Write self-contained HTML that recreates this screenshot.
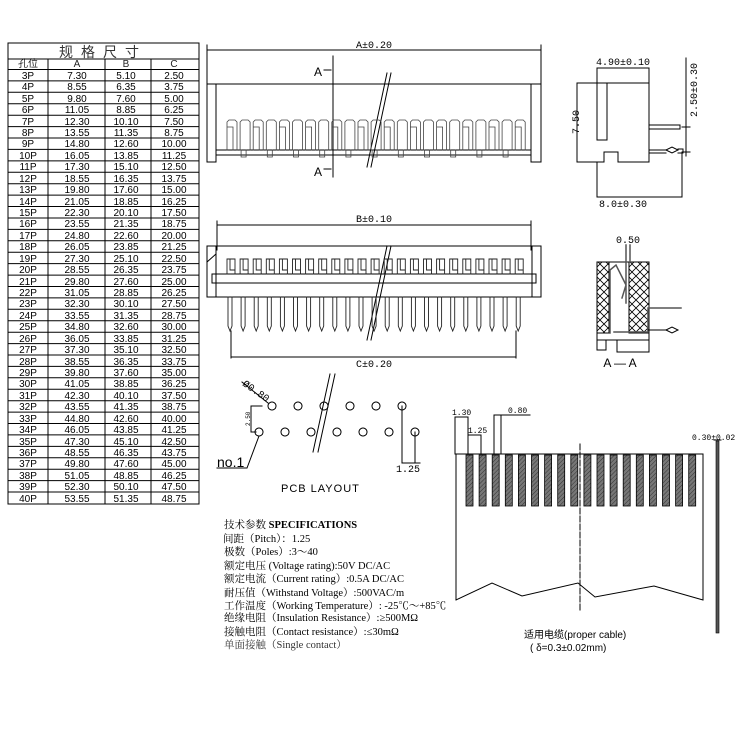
<!DOCTYPE html>
<html><head><meta charset="utf-8"><style>
html,body{margin:0;padding:0;background:#fff}
svg{display:block}
text{font-family:"Liberation Sans","Noto Sans CJK SC",sans-serif;fill:#000}
.s text{font-family:"Liberation Serif","Noto Serif CJK SC",serif;font-size:10.5px}
.t{font-size:10px;text-anchor:middle;fill:#222}
.m{font-family:"Liberation Mono","Noto Sans CJK SC",monospace;font-size:10px}
</style></head><body>
<svg id="g" width="750" height="750" viewBox="0 0 750 750" xmlns="http://www.w3.org/2000/svg" stroke-linecap="square">
<defs>
<pattern id="h" width="3" height="3" patternUnits="userSpaceOnUse" patternTransform="rotate(45)">
<rect width="3" height="3" fill="#777"/><line x1="0" y1="0" x2="0" y2="3" stroke="#333" stroke-width="1"/></pattern>
<pattern id="x" width="8" height="8" patternUnits="userSpaceOnUse">
<path d="M0 0L8 8M8 0L0 8" stroke="#000" stroke-width="0.8"/></pattern>
</defs>
<g id="tbl" stroke="#000" fill="none" stroke-width="1">
<rect x="8" y="43" width="191" height="461"/>
</g>
<text x="103" y="57" style="font-size:14px;text-anchor:middle;letter-spacing:8px;fill:#333">规格尺寸</text>
<g class="t">
<text x="28" y="67" class="t">孔位</text><text x="77" y="67" class="t">A</text><text x="126" y="67" class="t">B</text><text x="174" y="67" class="t">C</text>
</g>
<g class="t" id="rt">
<text x="28" y="79">3P</text><text x="77" y="79">7.30</text><text x="126" y="79">5.10</text><text x="174" y="79">2.50</text>
<text x="28" y="90">4P</text><text x="77" y="90">8.55</text><text x="126" y="90">6.35</text><text x="174" y="90">3.75</text>
<text x="28" y="102">5P</text><text x="77" y="102">9.80</text><text x="126" y="102">7.60</text><text x="174" y="102">5.00</text>
<text x="28" y="113">6P</text><text x="77" y="113">11.05</text><text x="126" y="113">8.85</text><text x="174" y="113">6.25</text>
<text x="28" y="125">7P</text><text x="77" y="125">12.30</text><text x="126" y="125">10.10</text><text x="174" y="125">7.50</text>
<text x="28" y="136">8P</text><text x="77" y="136">13.55</text><text x="126" y="136">11.35</text><text x="174" y="136">8.75</text>
<text x="28" y="147">9P</text><text x="77" y="147">14.80</text><text x="126" y="147">12.60</text><text x="174" y="147">10.00</text>
<text x="28" y="159">10P</text><text x="77" y="159">16.05</text><text x="126" y="159">13.85</text><text x="174" y="159">11.25</text>
<text x="28" y="170">11P</text><text x="77" y="170">17.30</text><text x="126" y="170">15.10</text><text x="174" y="170">12.50</text>
<text x="28" y="182">12P</text><text x="77" y="182">18.55</text><text x="126" y="182">16.35</text><text x="174" y="182">13.75</text>
<text x="28" y="193">13P</text><text x="77" y="193">19.80</text><text x="126" y="193">17.60</text><text x="174" y="193">15.00</text>
<text x="28" y="205">14P</text><text x="77" y="205">21.05</text><text x="126" y="205">18.85</text><text x="174" y="205">16.25</text>
<text x="28" y="216">15P</text><text x="77" y="216">22.30</text><text x="126" y="216">20.10</text><text x="174" y="216">17.50</text>
<text x="28" y="227">16P</text><text x="77" y="227">23.55</text><text x="126" y="227">21.35</text><text x="174" y="227">18.75</text>
<text x="28" y="239">17P</text><text x="77" y="239">24.80</text><text x="126" y="239">22.60</text><text x="174" y="239">20.00</text>
<text x="28" y="250">18P</text><text x="77" y="250">26.05</text><text x="126" y="250">23.85</text><text x="174" y="250">21.25</text>
<text x="28" y="262">19P</text><text x="77" y="262">27.30</text><text x="126" y="262">25.10</text><text x="174" y="262">22.50</text>
<text x="28" y="273">20P</text><text x="77" y="273">28.55</text><text x="126" y="273">26.35</text><text x="174" y="273">23.75</text>
<text x="28" y="285">21P</text><text x="77" y="285">29.80</text><text x="126" y="285">27.60</text><text x="174" y="285">25.00</text>
<text x="28" y="296">22P</text><text x="77" y="296">31.05</text><text x="126" y="296">28.85</text><text x="174" y="296">26.25</text>
<text x="28" y="307">23P</text><text x="77" y="307">32.30</text><text x="126" y="307">30.10</text><text x="174" y="307">27.50</text>
<text x="28" y="319">24P</text><text x="77" y="319">33.55</text><text x="126" y="319">31.35</text><text x="174" y="319">28.75</text>
<text x="28" y="330">25P</text><text x="77" y="330">34.80</text><text x="126" y="330">32.60</text><text x="174" y="330">30.00</text>
<text x="28" y="342">26P</text><text x="77" y="342">36.05</text><text x="126" y="342">33.85</text><text x="174" y="342">31.25</text>
<text x="28" y="353">27P</text><text x="77" y="353">37.30</text><text x="126" y="353">35.10</text><text x="174" y="353">32.50</text>
<text x="28" y="365">28P</text><text x="77" y="365">38.55</text><text x="126" y="365">36.35</text><text x="174" y="365">33.75</text>
<text x="28" y="376">29P</text><text x="77" y="376">39.80</text><text x="126" y="376">37.60</text><text x="174" y="376">35.00</text>
<text x="28" y="387">30P</text><text x="77" y="387">41.05</text><text x="126" y="387">38.85</text><text x="174" y="387">36.25</text>
<text x="28" y="399">31P</text><text x="77" y="399">42.30</text><text x="126" y="399">40.10</text><text x="174" y="399">37.50</text>
<text x="28" y="410">32P</text><text x="77" y="410">43.55</text><text x="126" y="410">41.35</text><text x="174" y="410">38.75</text>
<text x="28" y="422">33P</text><text x="77" y="422">44.80</text><text x="126" y="422">42.60</text><text x="174" y="422">40.00</text>
<text x="28" y="433">34P</text><text x="77" y="433">46.05</text><text x="126" y="433">43.85</text><text x="174" y="433">41.25</text>
<text x="28" y="445">35P</text><text x="77" y="445">47.30</text><text x="126" y="445">45.10</text><text x="174" y="445">42.50</text>
<text x="28" y="456">36P</text><text x="77" y="456">48.55</text><text x="126" y="456">46.35</text><text x="174" y="456">43.75</text>
<text x="28" y="467">37P</text><text x="77" y="467">49.80</text><text x="126" y="467">47.60</text><text x="174" y="467">45.00</text>
<text x="28" y="479">38P</text><text x="77" y="479">51.05</text><text x="126" y="479">48.85</text><text x="174" y="479">46.25</text>
<text x="28" y="490">39P</text><text x="77" y="490">52.30</text><text x="126" y="490">50.10</text><text x="174" y="490">47.50</text>
<text x="28" y="502">40P</text><text x="77" y="502">53.55</text><text x="126" y="502">51.35</text><text x="174" y="502">48.75</text>
</g>

<g id="d" fill="none" stroke="#000" stroke-width="1"></g>

<text x="374" y="48" class="m" text-anchor="middle">A±0.20</text>
<text x="314" y="76" style="font-size:12px">A</text><text x="314" y="176" style="font-size:12px">A</text>
<text x="374" y="222" class="m" text-anchor="middle">B±0.10</text>
<text x="374" y="367" class="m" text-anchor="middle">C±0.20</text>
<text x="623" y="65" class="m" text-anchor="middle">4.90±0.10</text>
<text x="623" y="207" class="m" text-anchor="middle">8.0±0.30</text>
<text class="m" transform="translate(579,122) rotate(-90)" text-anchor="middle">7.50</text>
<text class="m" transform="translate(697,90) rotate(-90)" text-anchor="middle">2.50±0.30</text>
<text x="628" y="243" class="m" text-anchor="middle">0.50</text>
<text x="620" y="367" style="font-size:12px" text-anchor="middle">A — A</text>
<text class="m" transform="translate(242,385) rotate(35)" style="font-size:10px">Ø0.80</text>
<text class="m" transform="translate(250,426) rotate(-90)" style="font-size:6px">2.50</text>
<text x="217" y="467" style="font-size:14px">no.1</text>
<text x="396" y="472" class="m">1.25</text>
<text x="281" y="492" style="font-size:11px;letter-spacing:1px">PCB LAYOUT</text>
<text x="452" y="415" class="m" style="font-size:8px">1.30</text>
<text x="468" y="433" class="m" style="font-size:8px">1.25</text>
<text x="508" y="413" class="m" style="font-size:8px">0.80</text>
<text x="692" y="440" class="m" style="font-size:8px">0.30±0.02</text>
<text x="524" y="638" style="font-size:10px">适用电缆(proper cable)</text>
<text x="530" y="651" style="font-size:10px">( δ=0.3±0.02mm)</text>
<g class="s">
<text x="224" y="528"><tspan>技术参数 </tspan><tspan font-weight="bold">SPECIFICATIONS</tspan></text>
<text x="223" y="542">间距（Pitch）：1.25</text>
<text x="224" y="555">极数（Poles）:3～40</text>
<text x="224" y="569">额定电压 (Voltage rating):50V DC/AC</text>
<text x="224" y="582">额定电流（Current rating）:0.5A DC/AC</text>
<text x="224" y="596">耐压值（Withstand Voltage）:500VAC/m</text>
<text x="224" y="609">工作温度（Working Temperature）: -25℃～+85℃</text>
<text x="224" y="621">绝缘电阻（Insulation Resistance）:≥500MΩ</text>
<text x="224" y="635">接触电阻（Contact resistance）:≤30mΩ</text>
<text x="224" y="648" style="fill:#333">单面接触（Single contact）</text>
</g>
</svg>
<script>
(function(){
var d=document.getElementById('d');
function a(p,s,f,w,ds){var e=document.createElementNS('http://www.w3.org/2000/svg','path');e.setAttribute('d',p);if(s)e.setAttribute('stroke',s);if(f)e.setAttribute('fill',f);if(w)e.setAttribute('stroke-width',w);if(ds)e.setAttribute('stroke-dasharray',ds);d.appendChild(e);}
function r(x,y,w,h,f,s,sw){var e=document.createElementNS('http://www.w3.org/2000/svg','rect');e.setAttribute('x',x);e.setAttribute('y',y);e.setAttribute('width',w);e.setAttribute('height',h);e.setAttribute('fill',f);e.setAttribute('stroke',s||'#000');if(sw)e.setAttribute('stroke-width',sw);d.appendChild(e);}
var tl='M8 59H199M8 69.5H199M48 59V504M105 59V504M151 59V504';
for(var i=1;i<38;i++){var y=69.5+i*11.42;tl+='M8 '+y.toFixed(1)+'H199';}
a(tl);
a('M207 50H541M207 45V85M541 45V85M207 84H541M207 84V162H216V84M531 84V162H541V84M216 150H531M216 155H531');
a('M333 56V177M324 70H331M324 169H331');
a('M387 73L367 167M391 73L371 167');
var p='';
for(var i=0;i<23;i++){var x=227+i*13.1;p+='M'+x+' 150V122L'+(x+2)+' 120H'+(x+8)+'L'+(x+10)+' 122V150';
 if(i%2==0)p+='M'+x+' 127H'+(x+6)+'V150';else p+='M'+(x+1)+' 150V157H'+(x+6)+'V150';}
a(p,'#444',null,0.8);
a('M217 225H531M217 221V250M531 221V250M207 246H541V297H207ZM216 246V297M532 246V297M212 274H536V283H212ZM207 262L216 254');
a('M387 246L367 340M391 246L371 340');
p='';
for(var i=0;i<23;i++){var x=227+i*13.1;p+='M'+x+' 274V259H'+(x+8)+'V274M'+(x+3)+' 259V270H'+(x+8);
 p+='M'+(x+1)+' 297V326L'+(x+3)+' 331L'+(x+5)+' 326V297';}
a(p,'#222',null,0.9);
a('M231 331V358M516 331V358M231 357H516');
a('M577 83H649V162H618V152H604V162H577ZM597 68V83M649 68V83M597 68H649M597 83V140H607V83');
a('M649 125H680V129H649M649 150H666L672 147L678 150L672 153L666 150M678 149H683V153H678M649 153H666');
a('M597 162V197M682 153V197M597 197H682M577 83V162M686 58V156M682 127H690M682 152H690');
a('M597 262H649V340H597Z');
r(597,262,12,71,'url(#x)');r(629,262,20,71,'url(#x)');
a('M610 333V270L616 265L626 285L622 298M626 245V303M630 245V262M614 332H648V308H681','#555',null,1.5);
a('M648 330H666L672 327L678 330L672 333L666 330M617 340V352H649V340M597 340V350H606V340');
p='';
[272,298,324,350,376,402].forEach(function(x){p+='M'+(x+4)+' 406A4 4 0 1 0 '+(x+4)+' 406.01';});
[259,285,311,337,363,389,415].forEach(function(x){p+='M'+(x+4)+' 432A4 4 0 1 0 '+(x+4)+' 432.01';});
a(p);
a('M242 382L268 403M251 406H262M251 432H256M251 406V432M217 468H247L259 436M402 406V463M415 432V463M402 463H420M330 374L313 452M335 374L318 452');
a('M456 454H703M456 454V600M703 454V600M456 600L492 583L522 596L578 583L595 597L654 586L703 600');
for(var i=0;i<18;i++){r(466+i*13.1,455,7,51,'url(#h)','#000',0.8);}
a('M580 444V612','#000',null,1,'6,2');
a('M455 417V454M468 417V454M455 417H468M468 435V454M481 435V454M468 435H481M494 415V454M501 415V454M494 415H530');
r(716,441,3,192,'#555','#000',0.6);
a('M714 440H721');
})();
</script>
</body></html>
